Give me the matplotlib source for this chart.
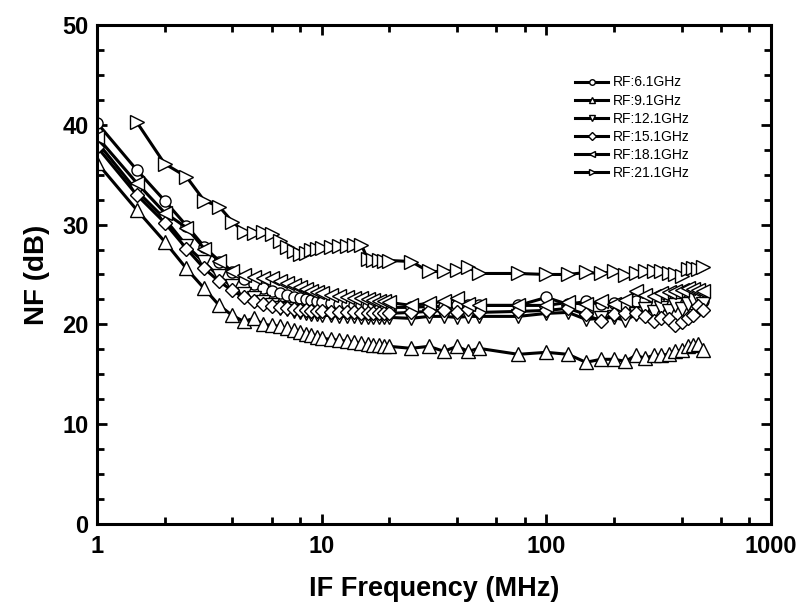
import matplotlib
matplotlib.use("Agg")
import numpy as np
import matplotlib.pyplot as plt
from matplotlib.ticker import LogLocator, MultipleLocator, NullFormatter, FixedLocator

plt.rcParams['font.family'] = ['Liberation Sans', 'DejaVu Sans']

# IF frequency grid (MHz)
freq = [1, 1.5, 2, 2.5, 3, 3.5, 4, 4.5, 5, 5.5, 6, 6.5, 7, 7.5, 8, 8.5, 9, 9.5, 10,
        11, 12, 13, 14, 15, 16, 17, 18, 19, 20,
        25, 30, 35, 40, 45, 50, 75,
        100, 125, 150, 175, 200, 225, 250, 275, 300, 325, 350, 375, 400, 425, 450, 475, 500]

nf_6g1 = [40.2, 35.5, 32.4, 29.9, 27.8, 26.3, 25.2, 24.5, 24.0, 23.6, 23.3, 23.1, 22.9, 22.7, 22.6, 22.5, 22.4, 22.3, 22.2,
          22.1, 22.0, 22.0, 21.9, 21.9, 21.8, 21.8, 21.8, 21.7, 21.7,
          21.7, 21.8, 21.8, 21.9, 21.9, 21.9, 21.9,
          22.7, 22.0, 22.3, 22.0, 22.1, 21.9, 22.3, 22.4, 22.2, 22.0, 22.3, 22.5, 22.1, 22.4, 22.0, 22.2, 22.3]

nf_9g1 = [36.2, 31.5, 28.3, 25.6, 23.6, 21.9, 20.9, 20.3, 20.6, 20.0, 19.9, 19.8, 19.6, 19.4, 19.2, 19.0, 18.9, 18.7, 18.6,
          18.5, 18.4, 18.3, 18.2, 18.1, 18.0, 17.9, 17.9, 17.8, 17.8,
          17.6, 17.8, 17.3, 17.8, 17.3, 17.6, 17.0,
          17.2, 17.0, 16.2, 16.5, 16.5, 16.3, 16.9, 16.6, 16.9, 16.9, 17.0, 17.3, 17.4, 17.8, 17.9, 18.0, 17.4]

nf_12g1 = [38.3, 33.4, 30.6, 27.9, 26.2, 24.8, 23.8, 23.0, 22.6, 22.2, 21.9, 21.6, 21.5, 21.3, 21.2, 21.1, 21.0, 21.0, 20.9,
           20.9, 20.8, 20.8, 20.8, 20.7, 20.7, 20.7, 20.7, 20.7, 20.7,
           20.6, 20.8, 20.8, 20.7, 20.8, 20.8, 20.8,
           21.1, 21.2, 20.5, 20.6, 20.7, 20.4, 21.0, 21.5, 21.2, 21.6, 21.3, 21.9, 21.5, 22.0, 22.4, 22.6, 22.0]

nf_15g1 = [37.8, 33.0, 30.2, 27.6, 25.6, 24.3, 23.4, 22.7, 22.3, 22.0, 21.8, 21.7, 21.6, 21.5, 21.4, 21.4, 21.3, 21.3, 21.3,
           21.2, 21.2, 21.2, 21.2, 21.1, 21.1, 21.1, 21.1, 21.1, 21.1,
           21.2, 21.3, 21.4, 21.2, 21.5, 21.2, 21.3,
           21.4, 21.6, 21.0, 20.3, 21.0, 21.1, 21.1, 20.8, 20.3, 20.6, 20.5, 19.9, 20.2, 20.6, 20.9, 21.8, 21.4]

nf_18g1 = [38.8, 34.2, 31.2, 29.7, 27.6, 26.4, 25.3, 24.9, 24.7, 24.6, 24.6, 24.3, 24.1, 23.9, 23.7, 23.5, 23.3, 23.2, 23.1,
           22.9, 22.8, 22.7, 22.6, 22.6, 22.5, 22.4, 22.3, 22.3, 22.2,
           21.9, 22.1, 22.3, 22.6, 22.0, 21.9, 21.9,
           21.9, 22.2, 22.0, 22.3, 22.0, 22.4, 23.3, 22.9, 22.8, 23.1, 23.2, 23.3, 23.4, 23.6, 23.5, 23.4, 23.3]

nf_21g1 = [np.nan, 40.3, 36.1, 34.8, 32.4, 31.8, 30.3, 29.3, 29.2, 29.3, 29.1, 28.4, 27.8, 27.4, 27.1, 27.2, 27.5, 27.6, 27.7,
           27.8, 27.9, 27.9, 28.0, 28.0, 26.6, 26.5, 26.5, 26.4, 26.4,
           26.3, 25.3, 25.3, 25.4, 25.7, 25.1, 25.1,
           25.0, 25.0, 25.2, 25.1, 25.3, 24.95, 25.1, 25.3, 25.3, 25.3, 25.1, 25.0, 24.8, 25.5, 25.6, 25.5, 25.7]

labels = ["RF:6.1GHz", "RF:9.1GHz", "RF:12.1GHz", "RF:15.1GHz", "RF:18.1GHz", "RF:21.1GHz"]
series = [nf_6g1, nf_9g1, nf_12g1, nf_15g1, nf_18g1, nf_21g1]
markers = ["o", "^", "v", "D", "<", ">"]
msizes = [8, 9.5, 9.5, 7.5, 9.5, 9.5]

fig = plt.figure(figsize=(8.04, 6.15), dpi=100)
ax = fig.add_axes([0.1206, 0.148, 0.8384, 0.8114])

for y, lab, m, ms in zip(series, labels, markers, msizes):
    ax.plot(freq, y, color="black", lw=2.2, marker=m, ms=ms, mfc="white",
            mec="black", mew=1.0, label=lab)

ax.set_xscale("log")
ax.set_xlim(1, 1000)
ax.set_ylim(0, 50)
ax.xaxis.set_major_locator(FixedLocator([1, 10, 100, 1000]))
ax.xaxis.set_minor_locator(LogLocator(base=10, subs=(2, 4, 6, 8)))
ax.xaxis.set_minor_formatter(NullFormatter())
ax.set_xticklabels(["1", "10", "100", "1000"])
ax.yaxis.set_major_locator(MultipleLocator(10))
ax.yaxis.set_minor_locator(MultipleLocator(2.5))

for s in ax.spines.values():
    s.set_linewidth(2.2)
ax.tick_params(which="both", direction="in", top=True, right=True, width=2.0)
ax.tick_params(which="major", length=7)
ax.tick_params(which="minor", length=5)
ax.tick_params(axis="x", which="major", pad=8)
ax.tick_params(axis="y", which="major", pad=6)
for t in ax.get_xticklabels() + ax.get_yticklabels():
    t.set_fontsize(17)
    t.set_fontweight("bold")

ax.set_xlabel("IF Frequency (MHz)", fontsize=19.5, fontweight="bold", labelpad=13)
ax.set_ylabel("NF (dB)", fontsize=20, fontweight="bold", labelpad=9)

leg = ax.legend(loc="upper left", bbox_to_anchor=(0.709, 0.899), frameon=False,
                fontsize=10, markerscale=0.5, handlelength=2.4, handletextpad=0.35,
                labelspacing=0.3, borderpad=0, borderaxespad=0)

fig.savefig("out.png", dpi=100)
